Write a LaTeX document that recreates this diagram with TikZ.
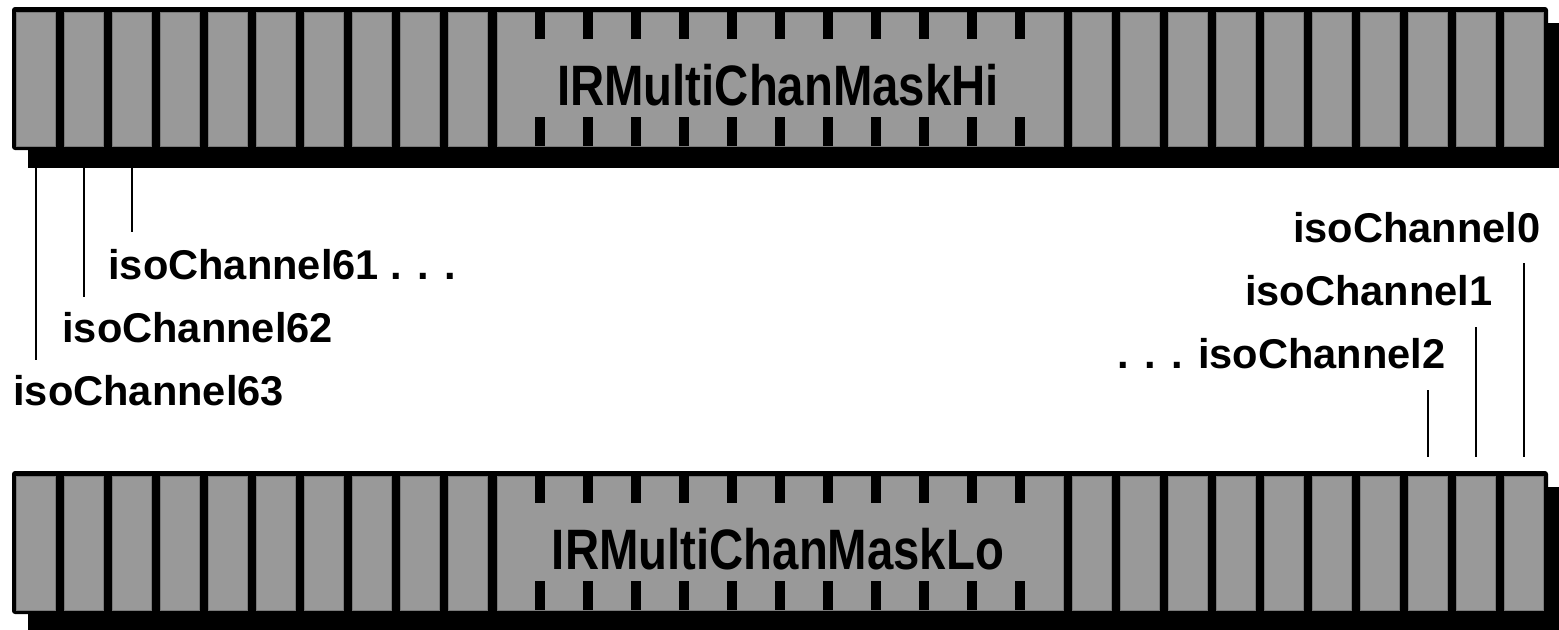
\documentclass[tikz,border=0pt]{standalone}
\usepackage{fontspec}
\setmainfont{Liberation Sans}
\usepackage{graphicx}
\definecolor{cellgray}{HTML}{999999}
\definecolor{celledge}{HTML}{7A7A7A}
\begin{document}
\begin{tikzpicture}[x=0.5pt,y=-0.5pt,
  cellbox/.style={draw=celledge, line width=0.4pt, fill=cellgray, minimum width=19.3pt, minimum height=67pt, inner sep=0pt},
  blockbox/.style={cellbox, minimum width=283pt},
  lbl/.style={font=\bfseries\fontsize{20.8}{25}\selectfont, inner sep=0pt},
  titlelbl/.style={font=\bfseries\fontsize{28.5}{32}\selectfont, inner sep=0pt},
  lead/.style={line width=1.1pt}]
\useasboundingbox (0,0) rectangle (1559,629);
\foreach \r/\dy in {hi/0,lo/464}{
  \fill (28,23+\dy) rectangle (1570,168+\dy);
  \fill[rounded corners=1.5pt] (12,7+\dy) rectangle (1548,150+\dy);
  \foreach \i in {0,...,9}
    \node[cellbox] (\r\i) at (36+48*\i, 79+\dy) {};
  \foreach \i in {22,...,31}
    \node[cellbox] (\r\i) at (36+48*\i, 79+\dy) {};
  \node[blockbox] (blk\r) at (780.3, 79+\dy) {};
  \foreach \k in {10,...,20}{
    \fill (55.2+48*\k, 12+\dy) rectangle (65.1+48*\k, 38.5+\dy);
    \fill (55.2+48*\k, 117+\dy) rectangle (65.1+48*\k, 146+\dy);
  }
}
\node[titlelbl, anchor=base] (titlehi) at (778,105) {\scalebox{0.83}[1]{IRMultiChanMaskHi}};
\node[titlelbl, anchor=base] (titlelo) at (778,569) {\scalebox{0.83}[1]{IRMultiChanMaskLo}};
% labels
\node[lbl, anchor=base west] (l61) at (108,279) {isoChannel61 . . .};
\node[lbl, anchor=base west] (l62) at (62,342) {isoChannel62};
\node[lbl, anchor=base west] (l63) at (13,405) {isoChannel63};
\node[lbl, anchor=base east] (l0) at (1541,242) {isoChannel0};
\node[lbl, anchor=base east] (l1) at (1493,305) {isoChannel1};
\node[lbl, anchor=base east] (l2) at (1446,368) {. . . isoChannel2};
% leader ends
\coordinate (e63) at (36,360);
\coordinate (e62) at (84,297);
\coordinate (e61) at (132,232);
\coordinate (e0) at (1524,263);
\coordinate (e1) at (1476,327);
\coordinate (e2) at (1428,390);
\draw[lead] ([yshift=-11pt]hi0.south) -- (e63);
\draw[lead] ([yshift=-11pt]hi1.south) -- (e62);
\draw[lead] ([yshift=-11pt]hi2.south) -- (e61);
\draw[lead] (e0) -- ([yshift=9.5pt]lo31.north);
\draw[lead] (e1) -- ([yshift=9.5pt]lo30.north);
\draw[lead] (e2) -- ([yshift=9.5pt]lo29.north);
\end{tikzpicture}
\end{document}
